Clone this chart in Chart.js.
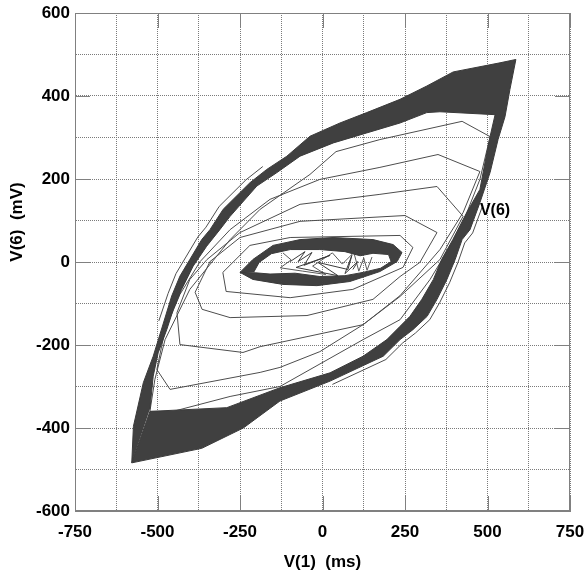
<!DOCTYPE html>
<html><head><meta charset="utf-8">
<script src="https://cdn.jsdelivr.net/npm/chart.js@4/dist/chart.umd.min.js"></script>
<style>html,body{margin:0;padding:0;background:#fff}</style>
</head><body>
<canvas id="c" width="584" height="574"></canvas>
<script>
// ---- data (V(1) in ms on x, V(6) in mV on y) ----
const xTickLabels = [-750, -500, -250, 0, 250, 500, 750];
const yTickLabels = [-600, -400, -200, 0, 200, 400, 600];
const xTitle = 'V(1)  (ms)';
const yTitle = 'V(6)  (mV)';
const curveLabel = 'V(6)';
const curveLabelAt = [477, 124];

// outer limit cycle band: outer edge then inner edge (reverse direction)
const bandOuter = [[-578,-484],[-573,-396],[-543,-291],[-513,-227],[-482,-147],[-457,-82],[-432,-34],[-402,6],[-366,54],[-341,78],[-301,127],[-220,191],[-169,223],[-108,255],[-38,303],[53,335],[134,360],[235,392],[316,424],[396,458],[538,480],[586,488],[568,416],[553,350],[532,295],[508,216],[477,143],[447,78],[423,54],[402,6],[377,-42],[347,-90],[317,-131],[274,-163],[235,-187],[184,-227],[23,-287],[-129,-335],[-240,-400],[-366,-449],[-578,-484]];
const bandInner = [[-523,-360],[-290,-351],[-129,-303],[23,-267],[123,-227],[195,-187],[235,-155],[265,-131],[301,-90],[336,-42],[361,6],[395,54],[437,119],[477,175],[498,263],[508,303],[523,355],[356,362],[316,360],[235,335],[134,311],[33,287],[-68,255],[-139,215],[-199,183],[-280,110],[-311,78],[-351,38],[-392,-10],[-427,-66],[-452,-114],[-472,-163],[-498,-219],[-513,-275],[-523,-355]];

// central small cycle
const coreOuter = [[-250,-25],[-211,6],[-150,40],[-68,54],[32,59],[153,54],[214,42],[241,23],[226,1],[174,-23],[83,-47],[-17,-57],[-120,-54],[-211,-42],[-250,-25]];
const coreInner = [[-208,-24],[-192,-1],[-155,20],[-98,30],[-8,30],[68,25],[114,15],[153,21],[200,18],[208,1],[176,-15],[123,-25],[68,-33],[-8,-35],[-83,-27],[-159,-29],[-204,-26]];
const coreFan = [[-98,1],[-53,25],[-74,1],[-32,23],[-56,-8],[23,16],[-80,-13],[47,-33],[-14,-1],[77,-18],[89,16],[68,-28],[107,1],[92,-18]];
const coreFan2 = [[-120,22],[-95,5],[-128,-14],[-60,-22],[10,-30],[-30,-10],[30,22],[60,-5],[95,23],[110,-22],[125,10],[135,-20],[150,12]];

// transient orbits spiralling outward
const orbit1 = [[-302,-25],[-220,40],[-98,59],[235,64],[274,35],[244,-13],[92,-66],[-98,-86],[-292,-71],[-302,-25]];
const orbit2 = [[-386,-73],[-341,1],[-250,59],[-68,98],[250,112],[347,71],[295,-1],[235,-35],[153,-90],[-47,-129],[-280,-134],[-365,-114],[-386,-73]];
const orbit3 = [[-441,-122],[-402,-42],[-350,6],[-250,71],[-68,139],[174,163],[347,182],[426,110],[356,6],[235,-83],[123,-151],[-189,-204],[-241,-218],[-432,-199],[-441,-122]];
const orbit4 = [[-502,-259],[-477,-163],[-432,-78],[-371,1],[-280,78],[-159,151],[-8,199],[174,228],[350,259],[477,218],[426,119],[356,30],[235,-81],[123,-151],[-8,-216],[-129,-254],[-189,-266],[-462,-307],[-502,-259]];
const orbit5 = [[-523,-360],[-508,-283],[-477,-187],[-402,-66],[-280,54],[-189,127],[-38,211],[41,266],[174,295],[423,339],[508,302],[477,199],[417,78],[326,-42],[235,-139],[123,-187],[-129,-300],[-280,-324],[-453,-360],[-523,-360]];
const edgeUpper = [[-496,-142],[-468,-76],[-444,-28],[-414,12],[-378,60],[-353,84],[-313,134],[-232,198],[-181,230]];
const edgeLower = [[485,135],[455,70],[431,46],[410,-2],[385,-50],[355,-98],[325,-139],[282,-171],[243,-195],[192,-235],[30,-295]];

// ---- chart ----
const toPts = a => a.map(p => ({x: p[0], y: p[1]}));
const DARK = '#404040';
const LINE = '#4d4d4d';
function ds(points, extra) {
  return Object.assign({
    data: toPts(points), borderColor: LINE, borderWidth: 1, pointRadius: 0,
    fill: false, tension: 0, borderJoinStyle: 'round'
  }, extra || {});
}
const FONT = {family: '"Liberation Sans", Arial, sans-serif', size: 17, weight: 'bold'};

const deco = {
  id: 'deco',
  beforeDatasetsDraw(chart) {
    const {ctx, chartArea: a, scales: {x, y}} = chart;
    ctx.save();
    ctx.strokeStyle = '#808080';
    ctx.lineWidth = 1;
    ctx.setLineDash([]);
    const L = 15;
    xTickLabels.forEach(v => {
      const p = Math.round(x.getPixelForValue(v)) + 0.5;
      ctx.beginPath(); ctx.moveTo(p, a.bottom); ctx.lineTo(p, a.bottom - L);
      ctx.moveTo(p, a.top); ctx.lineTo(p, a.top + L); ctx.stroke();
    });
    yTickLabels.forEach(v => {
      const p = Math.round(y.getPixelForValue(v)) + 0.5;
      ctx.beginPath(); ctx.moveTo(a.left, p); ctx.lineTo(a.left + L, p);
      ctx.moveTo(a.right, p); ctx.lineTo(a.right - L, p); ctx.stroke();
    });
    ctx.strokeRect(Math.round(a.left) + 0.5, Math.round(a.top) + 0.5,
      Math.round(a.right - a.left) - 1, Math.round(a.bottom - a.top) - 1);
    ctx.restore();
  },
  afterDatasetsDraw(chart) {
    const {ctx, chartArea: a, scales: {x, y}} = chart;
    ctx.save();
    ctx.fillStyle = '#000';
    ctx.font = 'bold 16px "Liberation Sans", Arial, sans-serif';
    ctx.textAlign = 'left';
    ctx.textBaseline = 'middle';
    ctx.fillText(curveLabel, x.getPixelForValue(curveLabelAt[0]), y.getPixelForValue(curveLabelAt[1]));
    // y-axis title
    ctx.font = 'bold 17px "Liberation Sans", Arial, sans-serif';
    ctx.translate(17, (a.top + a.bottom) / 2 - 40);
    ctx.rotate(-Math.PI / 2);
    ctx.textAlign = 'center';
    ctx.fillText(yTitle, 0, 0);
    ctx.restore();
  }
};

new Chart(document.getElementById('c'), {
  type: 'line',
  data: {
    datasets: [
      ds(bandOuter.concat(bandInner), {fill: 'shape', backgroundColor: DARK, borderColor: '#3a3a3a'}),
      ds(orbit1), ds(orbit2), ds(orbit3), ds(orbit4), ds(orbit5),
      ds(edgeUpper), ds(edgeLower),
      ds(coreOuter.concat(coreInner.slice().reverse()), {fill: 'shape', backgroundColor: DARK, borderColor: '#3a3a3a'}),
      ds(coreFan, {borderColor: '#3a3a3a'}),
      ds(coreFan2, {borderColor: '#5a5a5a'})
    ]
  },
  options: {
    responsive: false,
    devicePixelRatio: 1,
    animation: false,
    events: [],
    layout: {padding: {left: 0, top: 13, right: 14, bottom: 0}},
    plugins: {legend: {display: false}, tooltip: {enabled: false}},
    scales: {
      x: {
        type: 'linear', min: -750, max: 750,
        afterFit: s => { s.height = 63; s.paddingLeft = 0; s.paddingRight = 0; },
        ticks: {
          stepSize: 125, color: '#000', font: FONT, padding: 11, maxRotation: 0, autoSkip: false,
          callback: v => xTickLabels.includes(v) ? String(v) : ''
        },
        grid: {color: '#7a7a7a', lineWidth: 1, drawTicks: false},
        border: {display: true, color: '#808080', dash: [1, 1]},
        title: {display: true, text: xTitle, color: '#000', font: FONT, padding: {top: 0, bottom: 1}}
      },
      y: {
        type: 'linear', min: -600, max: 600,
        afterFit: s => { s.width = 75; s.paddingTop = 0; s.paddingBottom = 0; },
        ticks: {
          stepSize: 100, color: '#000', font: FONT, padding: 5, autoSkip: false,
          callback: v => yTickLabels.includes(v) ? String(v) : ''
        },
        grid: {color: '#7a7a7a', lineWidth: 1, drawTicks: false},
        border: {display: true, color: '#808080', dash: [1, 1]},
        title: {display: false}
      }
    }
  },
  plugins: [deco]
});
</script>
</body></html>
